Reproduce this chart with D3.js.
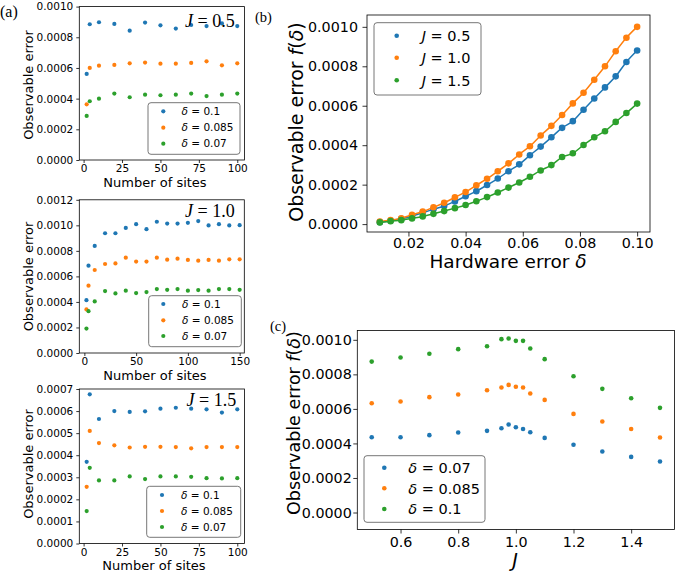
<!DOCTYPE html>
<html><head><meta charset="utf-8">
<script src="https://cdn.jsdelivr.net/npm/d3@7"></script>
<style>body{margin:0;background:#fff}svg{display:block}</style>
</head><body>
<script>
// ---------- DATA ----------
const colors = ["#1f77b4", "#ff7f0e", "#2ca02c"];

// Panel (a): observable error vs number of sites
const sitesShort = [2, 4, 10, 20, 30, 40, 50, 60, 70, 80, 90, 100];
const sitesLong = [2, 4, 10, 20, 30, 40, 50, 60, 70, 80, 90, 100, 110, 120, 130, 140, 150];
const aLegend = ["0.1", "0.085", "0.07"];

const a1Delta01 = [0.000561, 0.000885, 0.000898, 0.000887, 0.000843, 0.000896, 0.000878, 0.000857, 0.00088, 0.000873, 0.00089, 0.000873];
const a1Delta0085 = [0.000363, 0.0006, 0.000615, 0.00062, 0.00063, 0.000635, 0.000628, 0.000628, 0.000633, 0.000643, 0.000617, 0.00063];
const a1Delta007 = [0.000287, 0.000383, 0.0004, 0.000433, 0.000409, 0.000426, 0.000422, 0.000426, 0.000433, 0.000417, 0.000426, 0.000433];

const a2Delta01 = [0.000414, 0.000684, 0.000839, 0.000938, 0.000938, 0.00098, 0.001009, 0.00097, 0.001028, 0.001014, 0.001014, 0.00102, 0.001033, 0.000999, 0.001009, 0.000999, 0.001001];
const a2Delta0085 = [0.000341, 0.000527, 0.00065, 0.000697, 0.000702, 0.000747, 0.000716, 0.000716, 0.000747, 0.000731, 0.000739, 0.000729, 0.000723, 0.000729, 0.000723, 0.000734, 0.000734];
const a2Delta007 = [0.000191, 0.000328, 0.000404, 0.000485, 0.000467, 0.000488, 0.000469, 0.000477, 0.000501, 0.000495, 0.000501, 0.000488, 0.000493, 0.000488, 0.000501, 0.000501, 0.000495];

const a3Delta01 = [0.00037, 0.000676, 0.000564, 0.0006, 0.000596, 0.000599, 0.000611, 0.000615, 0.000611, 0.000608, 0.000593, 0.000608];
const a3Delta0085 = [0.000257, 0.00051, 0.000455, 0.000445, 0.000435, 0.000438, 0.000438, 0.000437, 0.000431, 0.000437, 0.000437, 0.000437];
const a3Delta007 = [0.000147, 0.000343, 0.000286, 0.000286, 0.000304, 0.000292, 0.000304, 0.000304, 0.000302, 0.000296, 0.000295, 0.000296];

// Panel (b): observable error vs hardware error
const hwError = [0.01, 0.01375, 0.0175, 0.02125, 0.025, 0.02875, 0.0325, 0.03625, 0.04, 0.04375, 0.0475, 0.05125, 0.055, 0.05875, 0.0625, 0.06625, 0.07, 0.07375, 0.0775, 0.08125, 0.085, 0.08875, 0.0925, 0.09625, 0.1];
const bJ05 = [0.00001, 0.000017, 0.000027, 0.00004, 0.000058, 0.000075, 0.000092, 0.000115, 0.000141, 0.000167, 0.000198, 0.000231, 0.000268, 0.000303, 0.000349, 0.000393, 0.00044, 0.000488, 0.000522, 0.00058, 0.000637, 0.000693, 0.000749, 0.000822, 0.00088];
const bJ10 = [0.0000136, 0.00002, 0.00003, 0.000047, 0.000064, 0.000085, 0.000108, 0.000136, 0.000163, 0.000197, 0.00023, 0.000268, 0.000308, 0.000353, 0.000395, 0.000449, 0.000498, 0.000553, 0.000612, 0.000666, 0.000732, 0.0008, 0.000876, 0.000945, 0.001];
const bJ15 = [0.0000086, 0.000015, 0.00002, 0.000029, 0.000039, 0.000052, 0.000066, 0.000081, 0.000097, 0.000116, 0.000137, 0.00016, 0.000185, 0.000211, 0.00024, 0.000272, 0.000299, 0.00034, 0.000359, 0.000401, 0.00044, 0.000471, 0.000518, 0.000563, 0.000611];
const bLegend = ["0.5", "1.0", "1.5"];

// Panel (c): observable error vs J
const jValues = [0.5, 0.6, 0.7, 0.8, 0.9, 0.95, 0.975, 1.0, 1.025, 1.05, 1.1, 1.2, 1.3, 1.4, 1.5];
const cDelta007 = [0.000436, 0.000436, 0.000448, 0.000463, 0.000473, 0.000488, 0.00051, 0.000494, 0.000484, 0.000465, 0.000432, 0.000392, 0.000353, 0.000322, 0.000295];
const cDelta0085 = [0.000633, 0.000643, 0.000668, 0.000683, 0.000708, 0.000724, 0.000739, 0.000728, 0.000724, 0.000689, 0.000652, 0.000571, 0.000527, 0.000484, 0.000434];
const cDelta01 = [0.000874, 0.000898, 0.000919, 0.000946, 0.000963, 0.001004, 0.001008, 0.000994, 0.000994, 0.00095, 0.000888, 0.000789, 0.000716, 0.000662, 0.000606];
const cLegend = ["0.07", "0.085", "0.1"];

// tick values
const aTicksX = [0, 25, 50, 75, 100];
const a2TicksX = [0, 50, 100, 150];
const a1TicksY = [0, 0.0002, 0.0004, 0.0006, 0.0008, 0.001];
const a2TicksY = [0, 0.0002, 0.0004, 0.0006, 0.0008, 0.001, 0.0012];
const a3TicksY = [0, 0.0001, 0.0002, 0.0003, 0.0004, 0.0005, 0.0006, 0.0007];
const bTicksX = [0.02, 0.04, 0.06, 0.08, 0.1];
const bcTicksY = [0, 0.0002, 0.0004, 0.0006, 0.0008, 0.001];
const cTicksX = [0.6, 0.8, 1.0, 1.2, 1.4];

// ---------- DRAW ----------
const svg = d3.select("body").append("svg")
  .attr("width", 675).attr("height", 576)
  .style("font-family", "'DejaVu Sans', sans-serif");

function panel(o) {
  const x = d3.scaleLinear().domain(o.xd).range(o.xr);
  const y = d3.scaleLinear().domain(o.yd).range(o.yr);
  const g = svg.append("g");
  const x0 = o.xr[0], x1 = o.xr[1], y0 = o.yr[0], y1 = o.yr[1];

  const gx = g.append("g").attr("transform", `translate(0,${y0})`)
    .call(d3.axisBottom(x).tickValues(o.xt).tickFormat(o.xf).tickSize(o.ts).tickPadding(o.padX));
  const gy = g.append("g").attr("transform", `translate(${x0},0)`)
    .call(d3.axisLeft(y).tickValues(o.yt).tickFormat(d3.format(".4f")).tickSize(o.ts).tickPadding(o.padY));
  [gx, gy].forEach(a => {
    a.select(".domain").remove();
    a.attr("font-family", null).attr("font-size", null);
    a.selectAll("text").style("font-size", o.tickFont + "px").attr("fill", "#000");
    a.selectAll("line").attr("stroke", "#000").attr("stroke-width", 0.8);
  });

  // series
  o.series.forEach((s, i) => {
    const pts = o.xs.map((xv, k) => [xv, s[k]]);
    if (o.lines) {
      g.append("path").datum(pts)
        .attr("fill", "none").attr("stroke", o.colors[i]).attr("stroke-width", 1.5)
        .attr("d", d3.line().x(d => x(d[0])).y(d => y(d[1])).curve(d3.curveMonotoneX));
    }
    g.append("g").selectAll("circle").data(pts).join("circle")
      .attr("cx", d => x(d[0])).attr("cy", d => y(d[1])).attr("r", o.r)
      .attr("fill", o.colors[i]);
  });

  // frame
  g.append("rect").attr("x", x0).attr("y", y1).attr("width", x1 - x0).attr("height", y0 - y1)
    .attr("fill", "none").attr("stroke", "#000").attr("stroke-width", 0.8);

  // legend
  const L = o.legend;
  g.append("rect").attr("x", L.x).attr("y", L.y).attr("width", L.w).attr("height", L.h)
    .attr("rx", 3).attr("fill", "#fff").attr("fill-opacity", 0.85)
    .attr("stroke", "#777").attr("stroke-width", 1);
  L.labels.forEach((lab, i) => {
    g.append("circle").attr("cx", L.mx).attr("cy", L.rows[i]).attr("r", L.r).attr("fill", L.colors[i]);
    const t = g.append("text").attr("x", L.tx).attr("y", L.rows[i]).attr("dy", "0.36em")
      .style("font-size", L.font + "px").attr("fill", "#000");
    t.append("tspan").style("font-style", "italic").text(L.sym);
    t.append("tspan").text(" = " + lab);
  });

  // axis labels
  if (o.xlabel) {
    const t = g.append("text").attr("x", o.xlabel.x).attr("y", o.xlabel.y)
      .attr("text-anchor", "middle").style("font-size", o.xlabel.size + "px");
    o.xlabel.parts.forEach(p => t.append("tspan").style("font-style", p[1] ? "italic" : "normal").text(p[0]));
  }
  if (o.ylabel) {
    const t = g.append("text")
      .attr("transform", `translate(${o.ylabel.x},${o.ylabel.y}) rotate(-90)`)
      .attr("dy", "0.35em").attr("text-anchor", "middle").style("font-size", o.ylabel.size + "px");
    o.ylabel.parts.forEach(p => t.append("tspan").style("font-style", p[1] ? "italic" : "normal").text(p[0]));
  }
  // J annotation
  if (o.ann) {
    const t = g.append("text").attr("x", o.ann.x).attr("y", o.ann.y)
      .style("font-family", "'Liberation Serif', 'Times New Roman', serif").style("font-size", "18px");
    t.append("tspan").style("font-style", "italic").text("J");
    t.append("tspan").text(" = " + o.ann.text);
  }
  return g;
}

const aColors = colors;
const yLabA = { x: 28, size: 13, parts: [["Observable error", false]] };

panel({
  xd: [-2.8, 104.7], xr: [79.3, 244.5], yd: [0, 0.001], yr: [160, 6.6],
  xt: aTicksX, xf: d3.format("d"), yt: a1TicksY, ts: 3, padX: 2, padY: 3, tickFont: 10.5,
  xs: sitesShort, series: [a1Delta01, a1Delta0085, a1Delta007], colors: aColors, r: 2.1,
  legend: { x: 148, y: 102.7, w: 92, h: 51.6, mx: 163.3, tx: 181.5, rows: [111.3, 127.7, 143.7], r: 2.1, font: 10.5, sym: "δ", labels: aLegend, colors: aColors },
  xlabel: { x: 155, y: 187, size: 13, parts: [["Number of sites", false]] },
  ylabel: Object.assign({ y: 85 }, yLabA),
  ann: { x: 185, y: 26.7, text: "0.5" }
});

panel({
  xd: [-4.9, 154.5], xr: [79.3, 244.3], yd: [0, 0.0012], yr: [353, 199.8],
  xt: a2TicksX, xf: d3.format("d"), yt: a2TicksY, ts: 3, padX: 2, padY: 3, tickFont: 10.5,
  xs: sitesLong, series: [a2Delta01, a2Delta0085, a2Delta007], colors: aColors, r: 2.1,
  legend: { x: 148.7, y: 295.7, w: 92.6, h: 51, mx: 163.3, tx: 182, rows: [304, 320.3, 336], r: 2.1, font: 10.5, sym: "δ", labels: aLegend, colors: aColors },
  xlabel: { x: 155, y: 380, size: 13, parts: [["Number of sites", false]] },
  ylabel: Object.assign({ y: 276.5 }, yLabA),
  ann: { x: 185, y: 217.3, text: "1.0" }
});

panel({
  xd: [-2.8, 104.7], xr: [79.3, 244.5], yd: [0, 0.0007], yr: [543.5, 389],
  xt: aTicksX, xf: d3.format("d"), yt: a3TicksY, ts: 3, padX: 2, padY: 3, tickFont: 10.5,
  xs: sitesShort, series: [a3Delta01, a3Delta0085, a3Delta007], colors: aColors, r: 2.1,
  legend: { x: 146.7, y: 486.3, w: 94, h: 51, mx: 162, tx: 181, rows: [495, 511, 527], r: 2.1, font: 10.5, sym: "δ", labels: aLegend, colors: aColors },
  xlabel: { x: 154, y: 570, size: 13, parts: [["Number of sites", false]] },
  ylabel: Object.assign({ y: 464 }, yLabA),
  ann: { x: 186.5, y: 405.7, text: "1.5" }
});

panel({
  xd: [0.0055, 0.1045], xr: [367, 650], yd: [-0.00004, 0.00106], yr: [232, 15],
  xt: bTicksX, xf: d3.format(".2f"), yt: bcTicksY, ts: 4.5, padX: 1.5, padY: 4.5, tickFont: 14.3,
  xs: hwError, series: [bJ05, bJ10, bJ15], colors: colors, r: 3.3, lines: true,
  legend: { x: 374, y: 22.7, w: 107, h: 72.3, mx: 396.7, tx: 421.7, rows: [35.7, 57.7, 80.3], r: 2.3, font: 14.5, sym: "J", labels: bLegend, colors: colors },
  xlabel: { x: 508, y: 267.5, size: 18.5, parts: [["Hardware error ", false], ["δ", true]] },
  ylabel: { x: 296.7, y: 122, size: 19, parts: [["Observable error ", false], ["f", true], ["(", false], ["δ", true], [")", false]] }
});

panel({
  xd: [0.45, 1.55], xr: [357.3, 674.4], yd: [-0.0000984, 0.001054], yr: [529.5, 330.5],
  xt: cTicksX, xf: d3.format(".1f"), yt: bcTicksY, ts: 4, padX: 3, padY: 1.5, tickFont: 14.3,
  xs: jValues, series: [cDelta007, cDelta0085, cDelta01], colors: colors, r: 2.3,
  legend: { x: 364, y: 455.7, w: 121, h: 66.6, mx: 384.3, tx: 408.3, rows: [467.7, 488.3, 509], r: 2.3, font: 14.5, sym: "δ", labels: cLegend, colors: colors },
  xlabel: { x: 515, y: 567, size: 19, parts: [["J", true]] },
  ylabel: { x: 294, y: 423, size: 17.5, parts: [["Observable error ", false], ["f", true], ["(", false], ["δ", true], [")", false]] }
});

// panel letters
const serif = "'Liberation Serif', 'Times New Roman', serif";
[["(a)", 0, 17, 16], ["(b)", 255, 21.5, 14.5], ["(c)", 270, 331, 14.5]].forEach(p => {
  svg.append("text").attr("x", p[1]).attr("y", p[2]).style("font-family", serif)
    .style("font-size", p[3] + "px").text(p[0]);
});
</script>
</body></html>
